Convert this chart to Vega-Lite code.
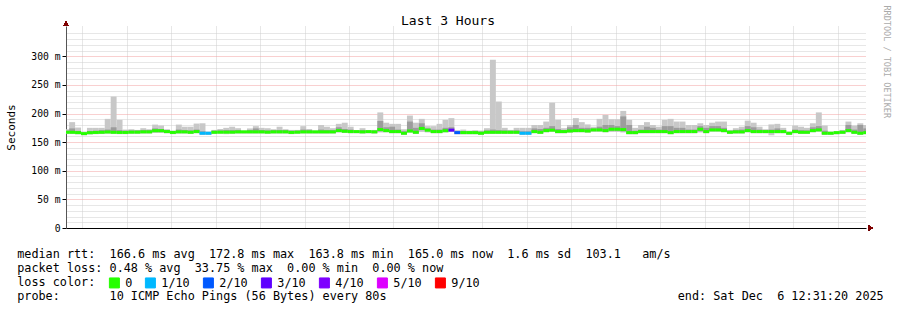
{
"$schema": "https://vega.github.io/schema/vega-lite/v6.json",
"width": 800, "height": 202,
"autosize": {"type": "none"},
"padding": {"left": 66, "top": 26, "right": 31, "bottom": 82},
"background": "white",
"title": {"text": "Last 3 Hours", "font": "DejaVu Sans Mono", "fontSize": 13, "fontWeight": "normal", "color": "#000", "anchor": "middle", "dx": -18, "dy": 35, "offset": 2, "baseline": "alphabetic"},
"config": {"view": {"stroke": null}, "font": "DejaVu Sans Mono"},
"data": {"values": [
{"t":1843,"e":1923,"hi":172.6,"mh":170.3,"md":167.3,"ml":165.8,"lo":164.3,"ls":"0"},
{"t":1923,"e":2003,"hi":185,"mh":174,"md":167.3,"ml":165.8,"lo":164.3,"ls":"0"},
{"t":2003,"e":2083,"hi":175.5,"mh":169.7,"md":166.7,"ml":165.2,"lo":163.7,"ls":"0"},
{"t":2083,"e":2163,"hi":166.5,"mh":166,"md":165,"ml":163.5,"lo":162,"ls":"0"},
{"t":2163,"e":2243,"hi":175,"mh":169.5,"md":166.5,"ml":165,"lo":163.5,"ls":"0"},
{"t":2243,"e":2323,"hi":175,"mh":170,"md":167,"ml":165.5,"lo":164,"ls":"0"},
{"t":2323,"e":2403,"hi":175,"mh":171,"md":167.3,"ml":165.8,"lo":164.3,"ls":"0"},
{"t":2403,"e":2483,"hi":190.7,"mh":172,"md":167.8,"ml":166.3,"lo":164.8,"ls":"0"},
{"t":2483,"e":2563,"hi":229.7,"mh":176,"md":167.3,"ml":165.8,"lo":164.3,"ls":"0"},
{"t":2563,"e":2643,"hi":189,"mh":171,"md":167,"ml":165.5,"lo":164,"ls":"0"},
{"t":2643,"e":2723,"hi":172,"mh":170,"md":167,"ml":165.5,"lo":164,"ls":"0"},
{"t":2723,"e":2803,"hi":172.6,"mh":170.5,"md":167.5,"ml":166,"lo":164.5,"ls":"0"},
{"t":2803,"e":2883,"hi":171.4,"mh":170.5,"md":167.5,"ml":166,"lo":164.5,"ls":"0"},
{"t":2883,"e":2963,"hi":174.4,"mh":171,"md":168,"ml":166.5,"lo":165,"ls":"0"},
{"t":2963,"e":3043,"hi":172.6,"mh":171,"md":168,"ml":166.5,"lo":165,"ls":"0"},
{"t":3043,"e":3123,"hi":180.7,"mh":174,"md":170,"ml":168,"lo":166,"ls":"0"},
{"t":3123,"e":3203,"hi":179,"mh":173,"md":170,"ml":168,"lo":166,"ls":"0"},
{"t":3203,"e":3283,"hi":172.6,"mh":171,"md":168.5,"ml":167,"lo":165.5,"ls":"0"},
{"t":3283,"e":3363,"hi":170.2,"mh":169,"md":167,"ml":165.5,"lo":164,"ls":"0"},
{"t":3363,"e":3443,"hi":180.7,"mh":172,"md":168,"ml":166.5,"lo":165,"ls":"0"},
{"t":3443,"e":3523,"hi":177,"mh":171,"md":168,"ml":166.5,"lo":165,"ls":"0"},
{"t":3523,"e":3603,"hi":177,"mh":170.5,"md":167.3,"ml":165.8,"lo":164.3,"ls":"0"},
{"t":3603,"e":3683,"hi":182.5,"mh":172,"md":168.5,"ml":167,"lo":165.5,"ls":"0"},
{"t":3683,"e":3763,"hi":183,"mh":169,"md":165.6,"ml":164.1,"lo":162.6,"ls":"1/10"},
{"t":3763,"e":3843,"hi":166.5,"mh":166,"md":165.6,"ml":164.1,"lo":162.6,"ls":"1/10"},
{"t":3843,"e":3923,"hi":171.4,"mh":170,"md":167.3,"ml":165.8,"lo":164.3,"ls":"0"},
{"t":3923,"e":4003,"hi":173,"mh":170.5,"md":167.5,"ml":166,"lo":164.5,"ls":"0"},
{"t":4003,"e":4083,"hi":175,"mh":171,"md":167.5,"ml":166,"lo":164,"ls":"0"},
{"t":4083,"e":4163,"hi":177,"mh":171,"md":167.5,"ml":166,"lo":164.5,"ls":"0"},
{"t":4163,"e":4243,"hi":174.4,"mh":171,"md":168,"ml":166.5,"lo":165,"ls":"0"},
{"t":4243,"e":4323,"hi":170.2,"mh":169.5,"md":168,"ml":166.5,"lo":165,"ls":"0"},
{"t":4323,"e":4403,"hi":174,"mh":171,"md":168,"ml":166.5,"lo":165,"ls":"0"},
{"t":4403,"e":4483,"hi":178,"mh":174,"md":168,"ml":166.5,"lo":165,"ls":"0"},
{"t":4483,"e":4563,"hi":175,"mh":171,"md":168,"ml":166.5,"lo":165,"ls":"0"},
{"t":4563,"e":4643,"hi":174.4,"mh":170.5,"md":167.5,"ml":166,"lo":164.5,"ls":"0"},
{"t":4643,"e":4723,"hi":172.6,"mh":171,"md":168,"ml":166.5,"lo":165,"ls":"0"},
{"t":4723,"e":4803,"hi":177,"mh":171,"md":168,"ml":166.5,"lo":165,"ls":"0"},
{"t":4803,"e":4883,"hi":172.6,"mh":171,"md":168,"ml":166.5,"lo":165,"ls":"0"},
{"t":4883,"e":4963,"hi":171.4,"mh":170,"md":167,"ml":165.5,"lo":164,"ls":"0"},
{"t":4963,"e":5043,"hi":171.4,"mh":170,"md":167.5,"ml":166,"lo":164.5,"ls":"0"},
{"t":5043,"e":5123,"hi":178,"mh":172,"md":168,"ml":166.5,"lo":165,"ls":"0"},
{"t":5123,"e":5203,"hi":173,"mh":171,"md":168,"ml":166.5,"lo":165,"ls":"0"},
{"t":5203,"e":5283,"hi":170.2,"mh":169.5,"md":168,"ml":166.5,"lo":165,"ls":"0"},
{"t":5283,"e":5363,"hi":180,"mh":172,"md":168,"ml":166.5,"lo":165,"ls":"0"},
{"t":5363,"e":5443,"hi":177,"mh":171,"md":168,"ml":166.5,"lo":165,"ls":"0"},
{"t":5443,"e":5523,"hi":174.4,"mh":171,"md":168,"ml":166.5,"lo":165,"ls":"0"},
{"t":5523,"e":5603,"hi":182,"mh":176,"md":170.2,"ml":168.5,"lo":167,"ls":"0"},
{"t":5603,"e":5683,"hi":184,"mh":173,"md":169,"ml":167.5,"lo":166,"ls":"0"},
{"t":5683,"e":5763,"hi":177,"mh":172,"md":168.5,"ml":167,"lo":165.5,"ls":"0"},
{"t":5763,"e":5843,"hi":170.2,"mh":169.5,"md":168.5,"ml":167,"lo":165.5,"ls":"0"},
{"t":5843,"e":5923,"hi":174.4,"mh":171,"md":168,"ml":166.5,"lo":165,"ls":"0"},
{"t":5923,"e":6003,"hi":170.2,"mh":169.5,"md":168.5,"ml":167,"lo":165.5,"ls":"0"},
{"t":6003,"e":6083,"hi":171.4,"mh":170,"md":168,"ml":166.5,"lo":165,"ls":"0"},
{"t":6083,"e":6163,"hi":202,"mh":187,"md":172,"ml":169,"lo":167,"ls":"0"},
{"t":6163,"e":6243,"hi":184,"mh":176,"md":170.2,"ml":168.5,"lo":167,"ls":"0"},
{"t":6243,"e":6323,"hi":182,"mh":177,"md":168.5,"ml":167,"lo":165.5,"ls":"0"},
{"t":6323,"e":6403,"hi":182,"mh":172,"md":168.5,"ml":167,"lo":165.5,"ls":"0"},
{"t":6403,"e":6483,"hi":172.6,"mh":169,"md":165.6,"ml":164.1,"lo":162.6,"ls":"0"},
{"t":6483,"e":6563,"hi":196.5,"mh":186,"md":169.5,"ml":168,"lo":166.5,"ls":"0"},
{"t":6563,"e":6643,"hi":184,"mh":175,"md":167.3,"ml":165.8,"lo":164.3,"ls":"0"},
{"t":6643,"e":6723,"hi":190.7,"mh":183,"md":174,"ml":171,"lo":168,"ls":"0"},
{"t":6723,"e":6803,"hi":178,"mh":174,"md":171,"ml":169,"lo":167,"ls":"0"},
{"t":6803,"e":6883,"hi":178,"mh":172,"md":168.5,"ml":167,"lo":165.5,"ls":"0"},
{"t":6883,"e":6963,"hi":182,"mh":172,"md":168.5,"ml":167,"lo":165.5,"ls":"0"},
{"t":6963,"e":7043,"hi":189,"mh":175,"md":170,"ml":168.5,"lo":167,"ls":"0"},
{"t":7043,"e":7123,"hi":192,"mh":176,"md":171,"ml":169.5,"lo":168,"ls":"3/10"},
{"t":7123,"e":7203,"hi":171,"mh":169,"md":166.7,"ml":165.2,"lo":163.7,"ls":"2/10"},
{"t":7203,"e":7283,"hi":172,"mh":169.5,"md":166.7,"ml":165.2,"lo":163.7,"ls":"0"},
{"t":7283,"e":7363,"hi":170.2,"mh":169,"md":166.7,"ml":165.2,"lo":163.7,"ls":"0"},
{"t":7363,"e":7443,"hi":171,"mh":169,"md":166.7,"ml":165.2,"lo":163.7,"ls":"0"},
{"t":7443,"e":7523,"hi":170.2,"mh":168.5,"md":165.6,"ml":164.1,"lo":162.6,"ls":"0"},
{"t":7523,"e":7603,"hi":174.4,"mh":170.5,"md":167.3,"ml":165.8,"lo":164.3,"ls":"0"},
{"t":7603,"e":7683,"hi":294,"mh":172,"md":167.3,"ml":165.8,"lo":164.3,"ls":"0"},
{"t":7683,"e":7763,"hi":221,"mh":171,"md":167.3,"ml":165.8,"lo":164.3,"ls":"0"},
{"t":7763,"e":7843,"hi":175,"mh":170.5,"md":167.3,"ml":165.8,"lo":164.3,"ls":"0"},
{"t":7843,"e":7923,"hi":171.4,"mh":170,"md":167.3,"ml":165.8,"lo":164.3,"ls":"0"},
{"t":7923,"e":8003,"hi":175,"mh":170.5,"md":167.3,"ml":165.8,"lo":164.3,"ls":"0"},
{"t":8003,"e":8083,"hi":175,"mh":169,"md":165.6,"ml":164.1,"lo":162.6,"ls":"1/10"},
{"t":8083,"e":8163,"hi":175,"mh":169,"md":165.6,"ml":164.1,"lo":162.6,"ls":"1/10"},
{"t":8163,"e":8243,"hi":180,"mh":174,"md":168.5,"ml":167,"lo":165.5,"ls":"0"},
{"t":8243,"e":8323,"hi":180,"mh":173,"md":167.3,"ml":165.8,"lo":164.3,"ls":"0"},
{"t":8323,"e":8403,"hi":186,"mh":175,"md":170.2,"ml":168.7,"lo":167.2,"ls":"0"},
{"t":8403,"e":8483,"hi":219,"mh":178,"md":171,"ml":169.5,"lo":168,"ls":"0"},
{"t":8483,"e":8563,"hi":189,"mh":173,"md":168.5,"ml":167,"lo":165.5,"ls":"0"},
{"t":8563,"e":8643,"hi":174.4,"mh":171,"md":168.5,"ml":167,"lo":165.5,"ls":"0"},
{"t":8643,"e":8723,"hi":180,"mh":176,"md":169.5,"ml":168,"lo":166.5,"ls":"0"},
{"t":8723,"e":8803,"hi":192,"mh":180,"md":170.2,"ml":168.7,"lo":167.2,"ls":"0"},
{"t":8803,"e":8883,"hi":185,"mh":175,"md":170.2,"ml":168.7,"lo":167.2,"ls":"0"},
{"t":8883,"e":8963,"hi":181,"mh":175,"md":169.5,"ml":168,"lo":166.5,"ls":"0"},
{"t":8963,"e":9043,"hi":177,"mh":174,"md":171.4,"ml":169.9,"lo":168.4,"ls":"0"},
{"t":9043,"e":9123,"hi":190.7,"mh":177,"md":171.4,"ml":169.9,"lo":168.4,"ls":"0"},
{"t":9123,"e":9203,"hi":197.6,"mh":180,"md":170.2,"ml":168.7,"lo":167.2,"ls":"0"},
{"t":9203,"e":9283,"hi":190,"mh":180,"md":172.6,"ml":170,"lo":168,"ls":"0"},
{"t":9283,"e":9363,"hi":190,"mh":178,"md":172.6,"ml":170,"lo":168,"ls":"0"},
{"t":9363,"e":9443,"hi":204.6,"mh":195,"md":172,"ml":169,"lo":167,"ls":"0"},
{"t":9443,"e":9523,"hi":189,"mh":180,"md":166.7,"ml":165.2,"lo":163.7,"ls":"0"},
{"t":9523,"e":9603,"hi":175,"mh":170,"md":166.7,"ml":165.2,"lo":163.7,"ls":"0"},
{"t":9603,"e":9683,"hi":180,"mh":172,"md":168.5,"ml":167,"lo":165.5,"ls":"0"},
{"t":9683,"e":9763,"hi":185,"mh":177,"md":168.5,"ml":167,"lo":165.5,"ls":"0"},
{"t":9763,"e":9843,"hi":180,"mh":175,"md":168.5,"ml":167,"lo":165.5,"ls":"0"},
{"t":9843,"e":9923,"hi":177,"mh":172,"md":168.5,"ml":167,"lo":165.5,"ls":"0"},
{"t":9923,"e":10003,"hi":189,"mh":178,"md":168.5,"ml":167,"lo":165.5,"ls":"0"},
{"t":10003,"e":10083,"hi":190.7,"mh":178,"md":166.7,"ml":165.2,"lo":163.7,"ls":"0"},
{"t":10083,"e":10163,"hi":186,"mh":175,"md":168.5,"ml":167,"lo":165.5,"ls":"0"},
{"t":10163,"e":10243,"hi":186,"mh":175,"md":168.5,"ml":167,"lo":165.5,"ls":"0"},
{"t":10243,"e":10323,"hi":180,"mh":172,"md":168.5,"ml":167,"lo":165.5,"ls":"0"},
{"t":10323,"e":10403,"hi":180,"mh":172,"md":168.5,"ml":167,"lo":165.5,"ls":"0"},
{"t":10403,"e":10483,"hi":183,"mh":178,"md":172.6,"ml":169,"lo":167,"ls":"0"},
{"t":10483,"e":10563,"hi":180,"mh":175,"md":168.5,"ml":167,"lo":165.5,"ls":"0"},
{"t":10563,"e":10643,"hi":184,"mh":178,"md":171.4,"ml":169.9,"lo":168.4,"ls":"0"},
{"t":10643,"e":10723,"hi":186,"mh":178,"md":171.4,"ml":169.9,"lo":168.4,"ls":"0"},
{"t":10723,"e":10803,"hi":186,"mh":175,"md":170.2,"ml":168.7,"lo":167.2,"ls":"0"},
{"t":10803,"e":10883,"hi":171.4,"mh":170,"md":167.3,"ml":165.8,"lo":164.3,"ls":"0"},
{"t":10883,"e":10963,"hi":174.4,"mh":171,"md":168,"ml":166.5,"lo":165,"ls":"0"},
{"t":10963,"e":11043,"hi":177,"mh":172,"md":168,"ml":166.5,"lo":165,"ls":"0"},
{"t":11043,"e":11123,"hi":187.6,"mh":178,"md":170.2,"ml":168.7,"lo":167.2,"ls":"0"},
{"t":11123,"e":11203,"hi":184,"mh":176,"md":168.5,"ml":167,"lo":165.5,"ls":"0"},
{"t":11203,"e":11283,"hi":177,"mh":172,"md":168.5,"ml":167,"lo":165.5,"ls":"0"},
{"t":11283,"e":11363,"hi":172.6,"mh":170.5,"md":168.5,"ml":167,"lo":165.5,"ls":"0"},
{"t":11363,"e":11443,"hi":181,"mh":172,"md":168.5,"ml":166,"lo":162,"ls":"0"},
{"t":11443,"e":11523,"hi":182,"mh":174,"md":168.5,"ml":167,"lo":165.5,"ls":"0"},
{"t":11523,"e":11603,"hi":175,"mh":171,"md":168.5,"ml":167,"lo":165.5,"ls":"0"},
{"t":11603,"e":11683,"hi":167,"mh":166.5,"md":165.6,"ml":164.1,"lo":162.6,"ls":"0"},
{"t":11683,"e":11763,"hi":179,"mh":172,"md":168.5,"ml":167,"lo":165.5,"ls":"0"},
{"t":11763,"e":11843,"hi":177,"mh":171,"md":167.3,"ml":165.8,"lo":164.3,"ls":"0"},
{"t":11843,"e":11923,"hi":175,"mh":170.5,"md":167.3,"ml":165.8,"lo":164.3,"ls":"0"},
{"t":11923,"e":12003,"hi":183,"mh":176,"md":170.2,"ml":168.7,"lo":167.2,"ls":"0"},
{"t":12003,"e":12083,"hi":202,"mh":178,"md":171.4,"ml":169.9,"lo":168.4,"ls":"0"},
{"t":12083,"e":12163,"hi":179,"mh":170,"md":165.6,"ml":164.1,"lo":162.6,"ls":"0"},
{"t":12163,"e":12243,"hi":166.5,"mh":166.2,"md":165.6,"ml":164.1,"lo":162.6,"ls":"0"},
{"t":12243,"e":12323,"hi":167,"mh":166.9,"md":166.7,"ml":165.2,"lo":163.7,"ls":"0"},
{"t":12323,"e":12403,"hi":171.4,"mh":170,"md":167.3,"ml":165.8,"lo":164.3,"ls":"0"},
{"t":12403,"e":12483,"hi":186,"mh":180,"md":170.2,"ml":168.7,"lo":167.2,"ls":"0"},
{"t":12483,"e":12563,"hi":179,"mh":172,"md":167.3,"ml":165.8,"lo":164.3,"ls":"0"},
{"t":12563,"e":12643,"hi":183,"mh":180,"md":165.6,"ml":164.1,"lo":162.6,"ls":"0"},
{"t":12643,"e":12723,"hi":180,"mh":174,"md":166.7,"ml":165.2,"lo":163.7,"ls":"0"}
]},
"layer": [
{
"mark": {"type": "rect", "color": "#c8c8c8", "clip": true},
"encoding": {
"x": {"field": "t", "type": "quantitative", "scale": {"domain": [1880, 12680], "nice": false, "zero": false},
"axis": {
"values": [2100,2400,2700,3000,3300,3600,3900,4200,4500,4800,5100,5400,5700,6000,6300,6600,6900,7200,7500,7800,8100,8400,8700,9000,9300,9600,9900,10200,10500,10800,11100,11400,11700,12000,12300,12600],
"labelExpr": "datum.value % 1200 === 0 ? utcFormat((datum.value + 32400) * 1000, '%H:%M') : ''",
"labelFont": "DejaVu Sans Mono", "labelFontSize": 9.7, "labelColor": "#000", "labelPadding": 2, "labelAngle": 0, "labelOverlap": false, "labelFlush": false,
"domainColor": "#000", "domainWidth": 1,
"tickColor": {"condition": {"test": "datum.value % 1200 === 0", "value": "#000"}, "value": "transparent"},
"tickSize": 3,
"grid": true,
"gridColor": {"condition": {"test": "datum.value % 1200 === 0", "value": "#f2a0a0"}, "value": "#cfcfcf"},
"gridDash": [1, 1],
"title": ["median rtt:\u00a0\u00a0166.6 ms avg\u00a0\u00a0172.8 ms max\u00a0\u00a0163.8 ms min\u00a0\u00a0165.0 ms now\u00a0\u00a01.6 ms sd\u00a0\u00a0103.1\u00a0\u00a0\u00a0am/s", "packet loss: 0.48 % avg\u00a0\u00a033.75 % max\u00a0\u00a00.00 % min\u00a0\u00a00.00 % now", "loss color:", "probe:\u00a0\u00a0\u00a0\u00a0\u00a0\u00a0\u00a010 ICMP Echo Pings (56 Bytes) every 80s\u00a0\u00a0\u00a0\u00a0\u00a0\u00a0\u00a0\u00a0\u00a0\u00a0\u00a0\u00a0\u00a0\u00a0\u00a0\u00a0\u00a0\u00a0\u00a0\u00a0\u00a0\u00a0\u00a0\u00a0\u00a0\u00a0\u00a0\u00a0\u00a0\u00a0\u00a0\u00a0\u00a0\u00a0\u00a0\u00a0\u00a0\u00a0\u00a0\u00a0\u00a0end: Sat Dec\u00a0\u00a06 12:31:20 2025"],
"titleFont": "DejaVu Sans Mono", "titleFontSize": 11.8, "titleFontWeight": "normal", "titleColor": "#000",
"titleAlign": "left", "titleAnchor": "start", "titleX": -49.3, "titleY": 29.5, "titleBaseline": "alphabetic", "titleLineHeight": 14
}},
"x2": {"field": "e"},
"y": {"field": "lo", "type": "quantitative", "scale": {"domain": [0, 353], "nice": false},
"axis": {
"values": [0,10,20,30,40,50,60,70,80,90,100,110,120,130,140,150,160,170,180,190,200,210,220,230,240,250,260,270,280,290,300,310,320,330,340],
"labelExpr": "datum.value % 50 === 0 ? (datum.value === 0 ? '0\u00a0\u00a0' : datum.value + ' m') : ''",
"labelFont": "DejaVu Sans Mono", "labelFontSize": 9.7, "labelColor": "#000", "labelPadding": 2, "labelOverlap": false, "labelFlush": false,
"domainColor": "#555",
"tickColor": {"condition": {"test": "datum.value % 50 === 0", "value": "#000"}, "value": "transparent"},
"tickSize": 4,
"grid": true,
"gridColor": {"condition": {"test": "datum.value % 50 === 0", "value": "#f2a0a0"}, "value": "#cfcfcf"},
"gridDash": [1, 1],
"title": "Seconds", "titleFont": "DejaVu Sans Mono", "titleFontSize": 11, "titleFontWeight": "normal", "titleColor": "#000",
"titleX": -55, "titleY": 101, "titleAngle": 270, "titleAlign": "center", "titleBaseline": "middle"
}},
"y2": {"field": "hi"}
}
},
{
"mark": {"type": "rect", "color": "#9c9c9c", "clip": true},
"encoding": {
"x": {"field": "t", "type": "quantitative"},
"x2": {"field": "e"},
"y": {"field": "ml", "type": "quantitative", "axis": null},
"y2": {"field": "mh"}
}
},
{
"mark": {"type": "rule", "strokeWidth": 3, "clip": true},
"encoding": {
"x": {"field": "t", "type": "quantitative"},
"x2": {"field": "e"},
"y": {"field": "md", "type": "quantitative", "axis": null},
"color": {"field": "ls", "type": "nominal",
"scale": {"domain": ["0", "1/10", "2/10", "3/10", "4/10", "5/10", "9/10"], "range": ["#26ff00", "#00b8ff", "#0059ff", "#5e00ff", "#7e00ff", "#dd00ff", "#ff0000"]},
"legend": {"orient": "none", "legendX": 42.5, "legendY": 251, "direction": "horizontal",
"title": null,
"labelFont": "DejaVu Sans Mono", "labelFontSize": 11.8, "labelColor": "#000", "labelOffset": 5,
"symbolType": "square", "symbolSize": 100, "symbolStrokeColor": "#000", "symbolStrokeWidth": 1,
"columnPadding": 10, "padding": 0,
"encode": {"symbols": {"update": {"fill": {"scale": "color", "field": "value"}, "stroke": {"value": "#000"}, "strokeWidth": {"value": 1}, "opacity": {"value": 1}}}}
}
}
}
},
{
"mark": {"type": "point", "shape": "triangle-up", "filled": true, "color": "#7f0000", "size": 20, "opacity": 1},
"encoding": {
"x": {"datum": 1880, "type": "quantitative"},
"y": {"datum": 357, "type": "quantitative", "axis": null}
}
},
{
"mark": {"type": "point", "shape": "triangle-right", "filled": true, "color": "#7f0000", "size": 20, "opacity": 1},
"encoding": {
"x": {"datum": 12745, "type": "quantitative"},
"y": {"datum": 0, "type": "quantitative",
"axis": {"orient": "right", "labels": false, "ticks": false, "domain": false, "grid": false,
"title": "RRDTOOL / TOBI OETIKER", "titleFont": "DejaVu Sans Mono", "titleFontSize": 8.5, "titleFontWeight": "normal", "titleColor": "#aaaaaa",
"titleAngle": 90, "titleX": 20, "titleY": -21, "titleAlign": "left", "titleBaseline": "middle"}}
}
}
],
"resolve": {"axis": {"y": "independent"}}
}
